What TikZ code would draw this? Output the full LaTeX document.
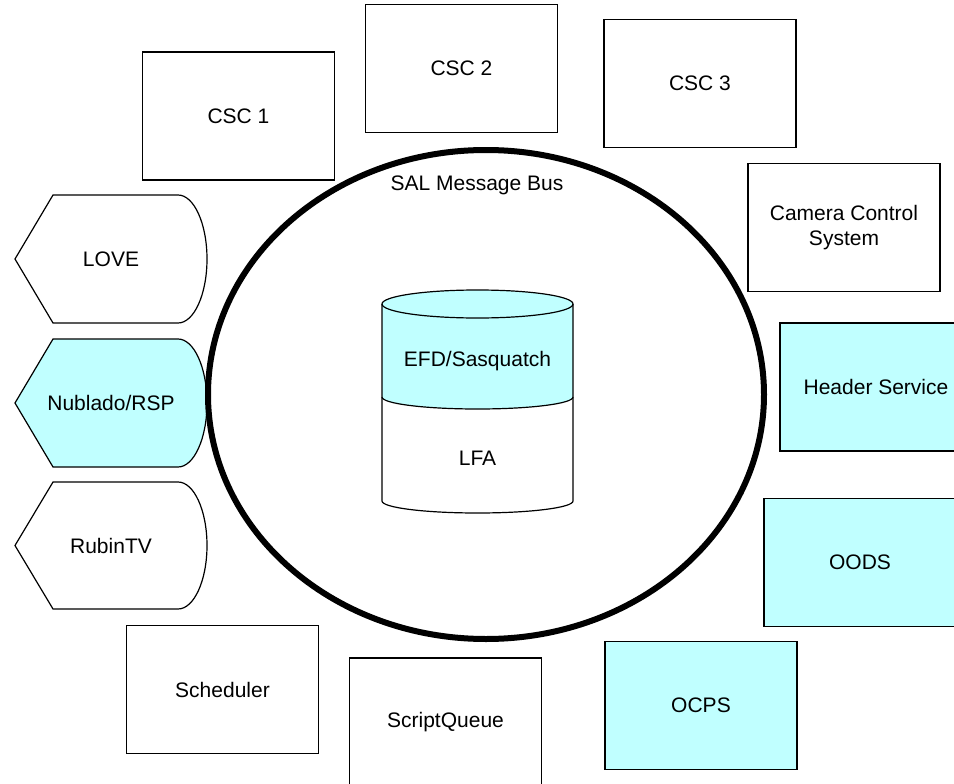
\documentclass[tikz,border=0pt]{standalone}
\usepackage{fontspec}
\setmainfont{Liberation Sans}
\usetikzlibrary{shapes.geometric}
\definecolor{lcyan}{RGB}{192,255,255}
\tikzset{
  x=1pt, y=1pt,
  every node/.style={font=\fontsize{21}{25}\selectfont, align=center},
  box/.style={draw, line width=1.2pt, rectangle, minimum width=192pt, minimum height=128pt, inner sep=0pt},
  cbox/.style={box, fill=lcyan},
  disp/.style={draw, line width=1.2pt},
  lbl/.style={inner sep=0pt},
  bus/.style={draw, ellipse, line width=6pt, minimum width=556pt, minimum height=489pt, inner sep=0pt}
}
\begin{document}
\begin{tikzpicture}
\useasboundingbox (0,0) rectangle (954,-784);
\clip (0,0) rectangle (954,-784);

% top / right / bottom boxes
\node[box]  (csc1)  at (238.5,-116) {CSC 1};
\node[box]  (csc2)  at (461.5,-68.5) {CSC 2};
\node[box]  (csc3)  at (700,-83.5) {CSC 3};
\node[box]  (ccs)   at (844,-227.5) {Camera Control\\System};
\node[cbox] (hdr)   at (876,-387) {Header Service};
\node[cbox] (oods)  at (860,-562.5) {OODS};
\node[cbox] (ocps)  at (701,-705.5) {OCPS};
\node[box]  (sq)    at (445.5,-722) {ScriptQueue};
\node[box]  (sched) at (222.5,-689.5) {Scheduler};

% display shapes
\draw[disp] (15,-259) -- (53,-195) -- (178,-195)
  arc[start angle=90, end angle=-90, x radius=29pt, y radius=64pt]
  -- (53,-323) -- cycle;
\node[lbl] (love) at (111,-259) {LOVE};

\draw[disp, fill=lcyan] (15,-403) -- (53,-339) -- (178,-339)
  arc[start angle=90, end angle=-90, x radius=29pt, y radius=64pt]
  -- (53,-467) -- cycle;
\node[lbl] (nublado) at (111,-403) {Nublado/RSP};

\draw[disp] (15,-545.5) -- (53,-482) -- (178,-482)
  arc[start angle=90, end angle=-90, x radius=29pt, y radius=63.5pt]
  -- (53,-609) -- cycle;
\node[lbl] (rubintv) at (111,-545.5) {RubinTV};

% message bus
\node[bus] (sal) at (486,-394.5) {};
\node[lbl] (sallbl) at (477,-185) {SAL Message Bus};

% cylinder
\fill[lcyan] (382,-304) -- (382,-397)
  arc[start angle=180, end angle=360, x radius=95.5pt, y radius=12pt]
  -- (573,-304)
  arc[start angle=0, end angle=180, x radius=95.5pt, y radius=14pt] -- cycle;
\draw[line width=1.2pt] (477.5,-304) ellipse[x radius=95.5pt, y radius=14pt];
\draw[line width=1.2pt] (382,-304) -- (382,-501)
  arc[start angle=180, end angle=360, x radius=95.5pt, y radius=12pt]
  -- (573,-304);
\draw[line width=1.2pt] (382,-397)
  arc[start angle=180, end angle=360, x radius=95.5pt, y radius=12pt];
\node[lbl] (efd) at (477.5,-361) {EFD/Sasquatch};
\node[lbl] (lfa) at (477.5,-458) {LFA};
\end{tikzpicture}
\end{document}
